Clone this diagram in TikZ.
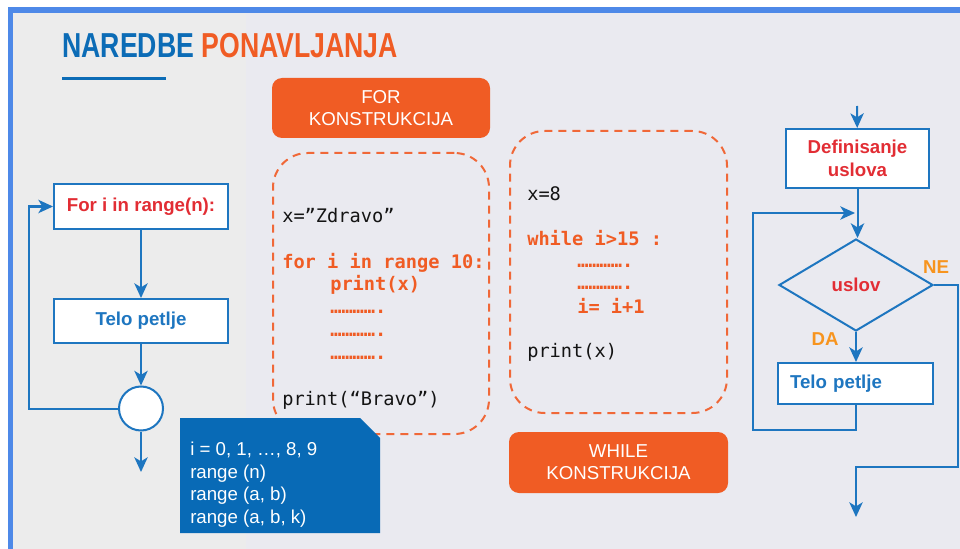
\documentclass[tikz,border=0pt]{standalone}
\usepackage{fontspec}
\usepackage{xcolor}
\setmainfont{Liberation Sans}
\newfontfamily\codefont{DejaVu Sans Mono}
\usetikzlibrary{arrows.meta,shapes.geometric}

\definecolor{frameblue}{RGB}{78,137,232}
\definecolor{bgmain}{RGB}{234,234,240}
\definecolor{bgleft}{RGB}{236,236,236}
\definecolor{titleblue}{RGB}{12,108,182}
\definecolor{headorange}{RGB}{240,92,36}
\definecolor{dashorange}{RGB}{240,104,56}
\definecolor{flowblue}{RGB}{30,118,192}
\definecolor{flowred}{RGB}{226,45,52}
\definecolor{labelorange}{RGB}{247,148,30}
\definecolor{noteblue}{RGB}{8,106,182}
\definecolor{codeblack}{RGB}{20,20,20}

\tikzset{
  flowline/.style={draw=flowblue, line width=1.5pt},
  flowarrow/.style={flowline, -{Stealth[length=11pt,width=10pt,inset=3pt]}},
  flowbox/.style={draw=flowblue, line width=1.5pt, fill=white, inner sep=0pt, font=\fontsize{14}{17.25}\selectfont\bfseries},
  headbox/.style={fill=headorange, rounded corners=7.5pt, text=white, align=center, inner sep=0pt, font=\fontsize{14}{16.5}\selectfont},
  codebox/.style={draw=dashorange, dash pattern=on 6pt off 4.5pt, line width=1.5pt, rounded corners=26pt, inner sep=0pt},
  codeline/.style={anchor=base west, inner sep=0pt, text=codeblack, font=\codefont\fontsize{14}{17}\selectfont},
  codehot/.style={anchor=base west, inner sep=0pt, text=headorange, font=\codefont\bfseries\fontsize{14}{17}\selectfont},
}

\begin{document}
\begin{tikzpicture}[x=0.75pt,y=0.75pt,yscale=-1,xscale=1]

\useasboundingbox (0,0) rectangle (960,549);

\fill[bgmain] (13,13) rectangle (960,549);

\fill[bgleft] (13,13) rectangle (246,549);

\fill[frameblue] (8,7) rectangle (960,13);

\fill[frameblue] (8,7) rectangle (13,549);


\node[anchor=base west, inner sep=0pt, font=\fontsize{26}{30}\selectfont\bfseries] (title) at (62,58) {\scalebox{0.769}[1]{\textcolor{titleblue}{NAREDBE} \textcolor{headorange}{PONAVLJANJA}}};

\draw[titleblue, line width=2.25pt] (62,78.5) -- (166,78.5);


\node[flowbox, text=flowred, minimum width=130.5pt, minimum height=33.75pt] (forhead) at (141,206.5) {For i in range(n):};

\node[flowbox, text=flowblue, minimum width=130.5pt, minimum height=33pt] (telo) at (141,321) {Telo petlje};

\node[circle, draw=flowblue, line width=1.5pt, fill=white, minimum size=33pt, inner sep=0pt] (join) at (141,408.5) {};

\coordinate (back) at (29,408.5);

\coordinate (exit) at (141,472);

\draw[flowarrow] (forhead) -- (telo);

\draw[flowarrow] (telo) -- (join);

\draw[flowarrow] (join.west) -- (back) |- (forhead.west);

\draw[flowarrow] (join) -- (exit);


\node[headbox, minimum width=163.5pt, minimum height=45pt] (forlabel) at (381,108) {FOR\\KONSTRUKCIJA};

\node[codebox, minimum width=162pt, minimum height=210.75pt] (forcode) at (381,293.5) {};

\node[codeline] (zdravo) at (282,223) {x=”Zdravo”};

\node[codehot] (forloop) at (282,268) {for i in range 10:};

\node[codehot] (printx) at (330,290) {print(x)};

\node[codehot] (dotsa) at (330,313) {………….};

\node[codehot] (dotsb) at (330,336) {………….};

\node[codehot] (dotsc) at (330,359) {………….};

\node[codeline] (bravo) at (282,405) {print(“Bravo”)};


\fill[noteblue] (180,418) -- (360,418) -- (380,438) -- (380,533) -- (180,533) -- cycle;

\node[anchor=north west, align=left, inner sep=0pt, text=white, font=\fontsize{14}{16.9}\selectfont] (notetext) at (190,442) {i = 0, 1, …, 8, 9\\range (n)\\range (a, b)\\range (a, b, k)};


\node[codebox, minimum width=162.75pt, minimum height=211.5pt] (whilecode) at (618.5,272) {};

\node[codeline] (xeight) at (527,200) {x=8};

\node[codehot] (whileloop) at (527,245) {while i>15 :};

\node[codehot] (dotsd) at (577,267) {………….};

\node[codehot] (dotse) at (577,289) {………….};

\node[codehot] (incr) at (577,313) {i= i+1};

\node[codeline] (printw) at (527,357) {print(x)};

\node[headbox, minimum width=164.25pt, minimum height=45.75pt] (whilelabel) at (618.5,462.5) {WHILE\\KONSTRUKCIJA};


\coordinate (entry) at (857,106);

\node[flowbox, text=flowred, align=center, minimum width=107.25pt, minimum height=44.25pt] (define) at (857.5,158.5) {Definisanje\\uslova};

\node[diamond, draw=flowblue, line width=1.5pt, inner sep=0pt, minimum width=115.5pt, minimum height=69pt, text=flowred, font=\fontsize{14}{17}\selectfont\bfseries] (cond) at (856,285) {uslov};

\node[flowbox, text=flowblue, align=left, text width=98.25pt, inner xsep=9pt, minimum height=30.75pt] (body) at (855.5,383.5) {Telo petlje};

\node[text=labelorange, inner sep=0pt, font=\fontsize{14}{17}\selectfont\bfseries] (ne) at (936,267) {NE};

\node[text=labelorange, inner sep=0pt, font=\fontsize{14}{17}\selectfont\bfseries] (da) at (825,339) {DA};

\coordinate (loopleft) at (753,430);

\coordinate (merge) at (855,213);

\coordinate (outright) at (958,467);

\coordinate (outend) at (856,517);

\draw[flowarrow] (entry) -- (define);

\draw[flowarrow] (define.south) -- (define.south |- cond.north);

\draw[flowarrow] (cond.south) -- (cond.south |- body.north);

\draw[flowarrow] (body.south) |- (loopleft) |- (merge);

\draw[flowarrow] (cond.east) -| (outright) -| (outend);

\end{tikzpicture}
\end{document}
